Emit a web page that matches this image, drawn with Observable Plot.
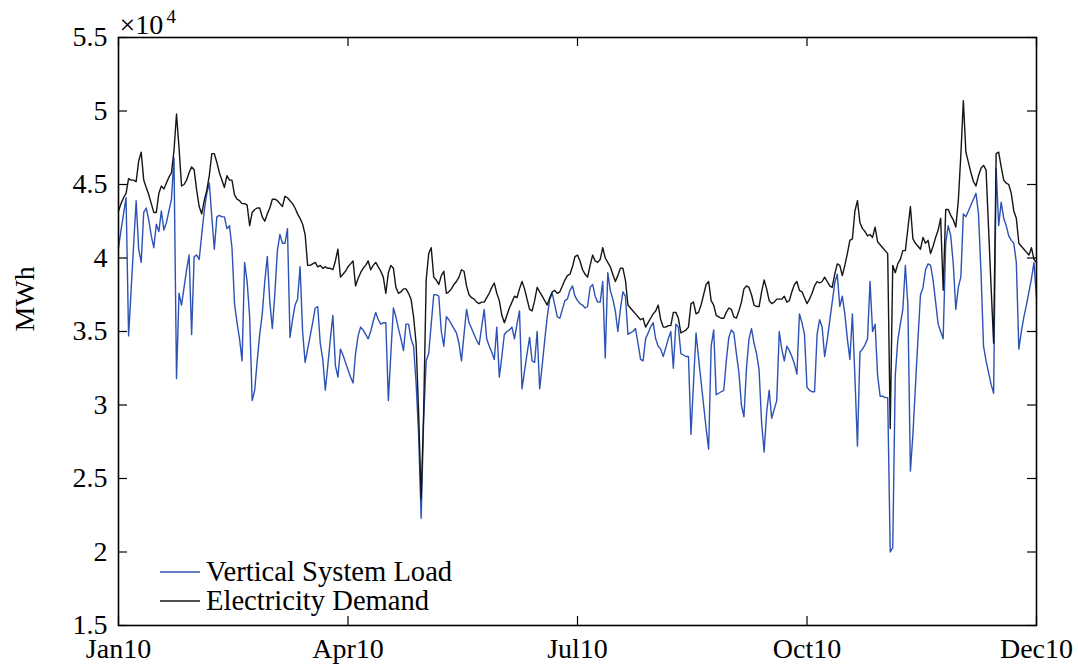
<!DOCTYPE html>
<html>
<head>
<meta charset="utf-8">
<script src="https://cdn.jsdelivr.net/npm/d3@7"></script>
<script src="https://cdn.jsdelivr.net/npm/@observablehq/plot@0.6"></script>
<style>
  html, body { margin: 0; padding: 0; background: #fff; }
  #chart svg { display: block; }
</style>
</head>
<body>
<div id="chart"></div>
<script>
// Daily values for 2010, Jan 1 .. Dec 31 (MWh)
const startDate = Date.UTC(2010, 0, 1);

const verticalSystemLoad = [
  40700, 41900, 43000, 44100, 34700, 37800, 40900, 43900, 40600, 39700,
  43100, 43400, 42600, 41500, 40700, 42300, 41800, 43200, 41900, 42400,
  43200, 44000, 46800, 31800, 37600, 36800, 38000, 39200, 40200, 34800,
  40100, 40200, 39900, 41600, 43200, 44400, 45100, 42800, 40600, 42800,
  42900, 42800, 42800, 42000, 42200, 40700, 36900, 35600, 34500, 33000,
  39700, 38400, 36000, 30300, 31000, 33000, 34800, 36200, 38400, 40100,
  37000, 35200, 37600, 40500, 41600, 41000, 41000, 42000, 34600, 35800,
  36800, 37200, 39400, 35000, 32900, 33800, 34700, 35600, 36600, 36700,
  34200, 33100, 31000, 32700, 34500, 36100, 32700, 31900, 33800, 33400,
  32900, 32400, 31900, 31500, 33500, 34700, 35300, 35100, 34800, 34500,
  35000, 35700, 36300, 35800, 35500, 35600, 35600, 30300, 33500, 36600,
  36000, 35200, 34500, 33700, 35500, 35500, 34500, 34000, 31500, 28000,
  22300, 29000, 33000, 33500, 35500, 37500, 37500, 37400, 35000, 34000,
  36000, 35800, 35500, 35200, 34900, 34200, 33000, 34800, 36500, 35600,
  35200, 34800, 34400, 34100, 35300, 36500, 34500, 34000, 33600, 33100,
  35300, 31900, 33300, 34800, 35000, 35100, 35300, 34500, 35500, 36400,
  31100, 32300, 33500, 34600, 33000, 32900, 35000, 31100, 32700, 34400,
  36000, 37200, 37600, 36800, 36000, 35900, 36500, 37100, 37200, 37800,
  38100, 37400, 37100, 36900, 36800, 36600, 36700, 38000, 38200, 37400,
  37000, 37000, 38400, 33200, 39000, 37800, 37200, 36400, 35000, 36500,
  37700, 37400, 34800, 34900, 35000, 35200, 34200, 33100, 33000, 34500,
  34900, 35300, 35600, 34500, 34000, 33800, 33300, 33900, 34500, 35000,
  32500, 35500, 35300, 33500, 33400, 33300, 33300, 28000, 31500, 34900,
  33200, 31600, 30000, 28400, 27000, 34000, 35100, 30700, 30800, 30900,
  31000, 33000, 34600, 35100, 34900, 33500, 32200, 30000, 29200, 32500,
  34500, 35200, 34200, 33500, 32400, 28800, 26800, 29500, 31000, 29100,
  29700, 30300, 35000, 33800, 33000, 34000, 33700, 33300, 32800, 32100,
  36200, 35600, 34800, 31200, 31000, 30900, 30900, 34800, 35800, 35300,
  33300, 34400, 35700, 37000, 38300, 38900, 36700, 37400, 36200, 34500,
  33100, 36200, 31900, 27200, 33600, 33800, 34100, 34500, 38400, 35000,
  35500, 32000, 30600, 30600, 30500, 30500, 20000, 20300, 32000, 34400,
  35500, 36500, 39500, 36800, 25500, 28000, 31300, 34500, 37500, 38000,
  39200, 39600, 39500, 38500, 37000, 35500, 35000, 34500, 41000, 42200,
  41500, 39600, 36500, 38000, 38700, 43000, 42800, 43200, 43600, 44000,
  44400, 43000, 39000, 34000, 33000, 32200, 31400, 30800, 46100, 42200,
  43800, 42700, 42200, 41500, 41200, 41000, 39700, 33800, 35000, 36000,
  36800, 37700, 38600, 39700, 37300
];

const electricityDemand = [
  43200, 43700, 44100, 44400, 45400, 45300, 45300, 45200, 46600, 47200,
  45300, 44800, 44300, 43700, 43100, 43100, 44400, 44900, 44700, 45100,
  45500, 45800, 47300, 49800, 47500, 44900, 45000, 45300, 45800, 46200,
  46000, 44600, 43500, 43000, 43900, 44600, 45600, 47100, 47100, 46500,
  45800, 45300, 44800, 45600, 45300, 45300, 44300, 44000, 43900, 43700,
  43700, 43600, 42200, 43100, 43300, 43400, 43400, 42800, 42500, 43000,
  43400, 44000, 44000, 43900, 43700, 43500, 44200, 44100, 43900, 43700,
  43400, 43000, 42700, 42300, 41600, 39500, 39500, 39600, 39700, 39400,
  39500, 39300, 39400, 39300, 39300, 39200, 39800, 40600, 38700, 38900,
  39100, 39400, 39600, 39800, 38100, 38600, 39000, 39300, 39500, 39800,
  39200, 39500, 39700, 39400, 39100, 38700, 37600, 39000, 39500, 39300,
  38000, 37600, 37700, 37900, 37900, 37600, 37200, 36000, 34200, 29500,
  23600, 29500, 38500, 40300, 40700, 38700, 38500, 38200, 38800, 39100,
  37600, 37700, 37900, 38200, 38400, 38700, 39200, 39100, 38100, 37500,
  37300, 37200, 37000, 36900, 37000, 37000, 37300, 37600, 38000, 38300,
  37600, 37100, 36100, 35600, 36100, 36600, 37000, 37400, 37300, 37900,
  38400, 37900, 37200, 36500, 36400, 37100, 38000, 37700, 37400, 37100,
  36800, 37300, 37700, 37800, 37600, 37700, 38100, 38500, 38800, 38900,
  39400, 40100, 40200, 39800, 39200, 38900, 38700, 39500, 40200, 39800,
  39700, 39900, 40700, 40000, 39700, 39400, 38900, 38400, 38800, 39300,
  39300, 38500, 36800, 36600, 36400, 36200, 36000, 35800, 35900, 35300,
  35600, 35900, 36200, 36400, 36800, 35800, 35300, 35300, 35400, 35400,
  36300, 36300, 35900, 34900, 35000, 35100, 35300, 36900, 37000, 36200,
  36300, 36800, 37500, 38200, 38400, 37100, 36800, 36100, 36000, 35900,
  35900, 36300, 36600, 36500, 36000, 35900, 36400, 37000, 37900, 38100,
  38000, 37500, 36800, 36700, 36700, 37700, 38500, 37900, 37100, 36900,
  37000, 37200, 37200, 37200, 37400, 37000, 37100, 37700, 38200, 38400,
  37800, 37700, 37300, 36900, 37200, 37600, 38100, 38400, 38300, 38400,
  38700, 38400, 38100, 38000, 38900, 39600, 39500, 38800, 39500, 40300,
  41200, 41300, 43200, 43900, 42400, 42000, 41800, 41500, 41600, 41400,
  42100, 41100, 40900, 40700, 40500, 40300, 28400, 39500, 39000, 39600,
  39900, 40500, 40500, 42000, 43500, 41300, 41000, 40800, 40600, 41400,
  41000, 41200, 40300, 40800, 41400, 41900, 42700, 37800, 43300, 43300,
  42900, 42600, 42100, 43900, 47000, 50700, 47200, 46500, 45800, 45200,
  44900, 45600, 46100, 46300, 46000, 42000, 38000, 34200, 47100, 47200,
  46200, 45300, 45100, 45000, 44400, 43200, 42700, 41000, 40800, 40600,
  40400, 40200, 40700, 39900, 39700
];

const seriesNames = ["Vertical System Load", "Electricity Demand"];
const seriesColors = ["#2c52b6", "#151515"];

const yTicks = [15000, 20000, 25000, 30000, 35000, 40000, 45000, 50000, 55000];
const xTickDates = [
  new Date(Date.UTC(2010, 0, 1)),
  new Date(Date.UTC(2010, 3, 2)),
  new Date(Date.UTC(2010, 6, 2)),
  new Date(Date.UTC(2010, 9, 1)),
  new Date(Date.UTC(2010, 11, 31))
];
const xTickLabels = ["Jan10", "Apr10", "Jul10", "Oct10", "Dec10"];

// Build the daily table
const rows = verticalSystemLoad.map((load, i) => ({
  date: new Date(startDate + i * 864e5),
  load,
  demand: electricityDemand[i]
}));

const W = 1078, H = 667;
const M = {left: 118, right: 42, top: 37, bottom: 42};
const innerW = W - M.left - M.right;
const innerH = H - M.top - M.bottom;
const tickLen = 9;
const fontPx = 28;
const serif = "'Liberation Serif', 'Times New Roman', serif";
const labelOf = new Map(xTickDates.map((d, i) => [+d, xTickLabels[i]]));

const chart = Plot.plot({
  width: W,
  height: H,
  marginLeft: M.left,
  marginRight: M.right,
  marginTop: M.top,
  marginBottom: M.bottom,
  style: {fontFamily: serif, fontSize: fontPx + "px", color: "#000", background: "#fff", overflow: "visible"},
  x: {type: "utc", domain: [xTickDates[0], xTickDates[xTickDates.length - 1]]},
  y: {domain: [15000, 55000]},
  marks: [
    Plot.line(rows, {x: "date", y: "load", stroke: seriesColors[0], strokeWidth: 1.4}),
    Plot.line(rows, {x: "date", y: "demand", stroke: seriesColors[1], strokeWidth: 1.4}),
    // inward tick marks on all four sides
    Plot.ruleY(yTicks, {insetRight: innerW - tickLen, stroke: "#000", strokeWidth: 1.2}),
    Plot.ruleY(yTicks, {insetLeft: innerW - tickLen, stroke: "#000", strokeWidth: 1.2}),
    Plot.ruleX(xTickDates, {insetTop: innerH - tickLen, stroke: "#000", strokeWidth: 1.2}),
    Plot.ruleX(xTickDates, {insetBottom: innerH - tickLen, stroke: "#000", strokeWidth: 1.2}),
    Plot.frame({stroke: "#000", strokeWidth: 1.6}),
    Plot.axisY({ticks: yTicks, tickSize: 0, tickPadding: 11, tickFormat: d => String(d / 1e4), label: null, fontSize: fontPx}),
    Plot.axisX({ticks: xTickDates, tickSize: 0, tickPadding: 13, tickFormat: d => labelOf.get(+d), label: null, fontSize: fontPx}),
    Plot.text(["MWh"], {frameAnchor: "left", dx: -93, rotate: -90, fontSize: fontPx}),
    // exponent note for the y values
    Plot.text(["×10"], {frameAnchor: "top-left", dx: 1, dy: -4, lineAnchor: "bottom", textAnchor: "start", fontSize: fontPx}),
    Plot.text(["4"], {frameAnchor: "top-left", dx: 48, dy: -15, lineAnchor: "bottom", textAnchor: "start", fontSize: 19})
  ]
});

// Legend in the lower-left corner of the plot box
const svg = d3.select(chart);
const legend = svg.append("g")
  .attr("font-family", serif)
  .attr("font-size", 28.6)
  .attr("text-anchor", "start");
seriesNames.forEach((name, i) => {
  const y = 572 + i * 29;
  legend.append("line")
    .attr("x1", 160).attr("x2", 200).attr("y1", y).attr("y2", y)
    .attr("stroke", seriesColors[i]).attr("stroke-width", 1.4);
  legend.append("text")
    .attr("x", 206).attr("y", y).attr("dy", "0.32em")
    .attr("fill", "#000")
    .attr("text-anchor", "start")
    .text(name);
});

document.getElementById("chart").appendChild(chart);
</script>
</body>
</html>
